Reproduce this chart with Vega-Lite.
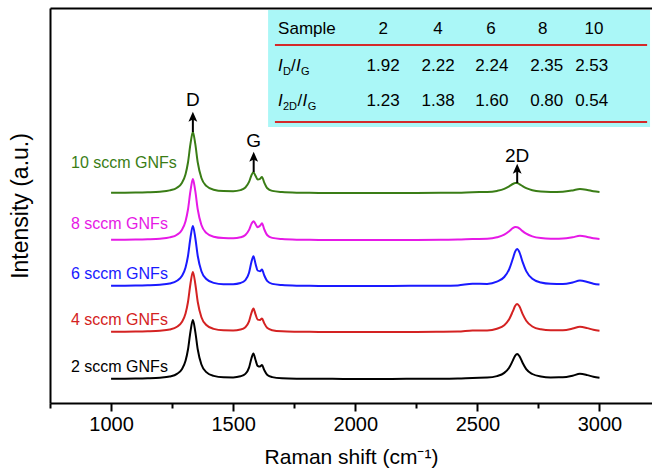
{
 "$schema": "https://vega.github.io/schema/vega-lite/v6.json",
 "width": 602, "height": 395,
 "autosize": "none",
 "padding": {"left": 50, "top": 8, "right": 0, "bottom": 68},
 "background": "white",
 "config": {"view": {"stroke": null}, "font": "Liberation Sans", "axis": {"grid": false}},
 "resolve": {"axis": {"x": "independent", "y": "independent"}},
 "datasets": {
  "spec": [
   {"s":2,"x":1000,"y":24.2},{"s":2,"x":1050,"y":24.3},{"s":2,"x":1100,"y":24.4},{"s":2,"x":1150,"y":24.7},{"s":2,"x":1200,"y":25.3},{"s":2,"x":1240,"y":26.5},{"s":2,"x":1270,"y":29.1},{"s":2,"x":1290,"y":33.7},{"s":2,"x":1305,"y":42.2},{"s":2,"x":1315,"y":53.5},{"s":2,"x":1325,"y":71.2},{"s":2,"x":1335,"y":83},{"s":2,"x":1345,"y":71.2},{"s":2,"x":1355,"y":53.5},{"s":2,"x":1370,"y":38.5},{"s":2,"x":1390,"y":30.9},{"s":2,"x":1420,"y":27.1},{"s":2,"x":1460,"y":25.7},{"s":2,"x":1500,"y":25.6},{"s":2,"x":1530,"y":26.7},{"s":2,"x":1550,"y":29.1},{"s":2,"x":1565,"y":35.4},{"s":2,"x":1575,"y":44.8},{"s":2,"x":1583,"y":49.5},{"s":2,"x":1592,"y":42.7},{"s":2,"x":1600,"y":37.2},{"s":2,"x":1610,"y":36.5},{"s":2,"x":1618,"y":37.9},{"s":2,"x":1627,"y":33.1},{"s":2,"x":1640,"y":28.0},{"s":2,"x":1660,"y":25.9},{"s":2,"x":1700,"y":24.7},{"s":2,"x":1760,"y":24.3},{"s":2,"x":1850,"y":24.2},{"s":2,"x":1950,"y":24.1},{"s":2,"x":2050,"y":24.1},{"s":2,"x":2150,"y":24.0},{"s":2,"x":2250,"y":24.2},{"s":2,"x":2350,"y":24.2},{"s":2,"x":2420,"y":24.4},{"s":2,"x":2480,"y":25.1},{"s":2,"x":2540,"y":25.4},{"s":2,"x":2580,"y":26.9},{"s":2,"x":2610,"y":30.1},{"s":2,"x":2630,"y":35.3},{"s":2,"x":2645,"y":42.4},{"s":2,"x":2655,"y":47.4},{"s":2,"x":2663,"y":49},{"s":2,"x":2672,"y":46.9},{"s":2,"x":2685,"y":40.3},{"s":2,"x":2700,"y":33.9},{"s":2,"x":2725,"y":29.0},{"s":2,"x":2760,"y":26.5},{"s":2,"x":2800,"y":25.6},{"s":2,"x":2850,"y":25.7},{"s":2,"x":2890,"y":27.3},{"s":2,"x":2920,"y":29.2},{"s":2,"x":2950,"y":27.9},{"s":2,"x":2975,"y":26.2},{"s":2,"x":3000,"y":25.3},
   {"s":4,"x":1000,"y":71.2},{"s":4,"x":1050,"y":71.3},{"s":4,"x":1100,"y":71.4},{"s":4,"x":1150,"y":71.7},{"s":4,"x":1200,"y":72.3},{"s":4,"x":1240,"y":73.5},{"s":4,"x":1270,"y":76.2},{"s":4,"x":1290,"y":80.9},{"s":4,"x":1305,"y":89.5},{"s":4,"x":1315,"y":101},{"s":4,"x":1325,"y":119},{"s":4,"x":1335,"y":131},{"s":4,"x":1345,"y":119},{"s":4,"x":1355,"y":101},{"s":4,"x":1370,"y":85.8},{"s":4,"x":1390,"y":78.0},{"s":4,"x":1420,"y":74.1},{"s":4,"x":1460,"y":72.7},{"s":4,"x":1500,"y":72.6},{"s":4,"x":1530,"y":73.5},{"s":4,"x":1550,"y":75.8},{"s":4,"x":1565,"y":81.6},{"s":4,"x":1575,"y":90.1},{"s":4,"x":1583,"y":94.4},{"s":4,"x":1592,"y":88.3},{"s":4,"x":1600,"y":83.4},{"s":4,"x":1610,"y":83.0},{"s":4,"x":1618,"y":84.6},{"s":4,"x":1627,"y":79.9},{"s":4,"x":1640,"y":74.9},{"s":4,"x":1660,"y":72.8},{"s":4,"x":1700,"y":71.7},{"s":4,"x":1760,"y":71.3},{"s":4,"x":1850,"y":71.1},{"s":4,"x":1950,"y":71.0},{"s":4,"x":2050,"y":71.1},{"s":4,"x":2150,"y":71.0},{"s":4,"x":2250,"y":71.1},{"s":4,"x":2350,"y":71.3},{"s":4,"x":2420,"y":71.4},{"s":4,"x":2480,"y":72.5},{"s":4,"x":2540,"y":72.6},{"s":4,"x":2580,"y":74.3},{"s":4,"x":2610,"y":77.8},{"s":4,"x":2630,"y":83.7},{"s":4,"x":2645,"y":91.6},{"s":4,"x":2655,"y":97.2},{"s":4,"x":2663,"y":99},{"s":4,"x":2672,"y":96.7},{"s":4,"x":2685,"y":89.2},{"s":4,"x":2700,"y":82.3},{"s":4,"x":2725,"y":76.5},{"s":4,"x":2760,"y":73.7},{"s":4,"x":2800,"y":72.8},{"s":4,"x":2850,"y":72.8},{"s":4,"x":2890,"y":74.4},{"s":4,"x":2920,"y":76.3},{"s":4,"x":2950,"y":74.9},{"s":4,"x":2975,"y":73.2},{"s":4,"x":3000,"y":72.3},
   {"s":6,"x":1000,"y":117.2},{"s":6,"x":1050,"y":117.3},{"s":6,"x":1100,"y":117.4},{"s":6,"x":1150,"y":117.7},{"s":6,"x":1200,"y":118.3},{"s":6,"x":1240,"y":119.5},{"s":6,"x":1270,"y":122.2},{"s":6,"x":1290,"y":126.9},{"s":6,"x":1305,"y":135.5},{"s":6,"x":1315,"y":147},{"s":6,"x":1325,"y":165},{"s":6,"x":1335,"y":177},{"s":6,"x":1345,"y":165},{"s":6,"x":1355,"y":147},{"s":6,"x":1370,"y":131.8},{"s":6,"x":1390,"y":124.0},{"s":6,"x":1420,"y":120.1},{"s":6,"x":1460,"y":118.8},{"s":6,"x":1500,"y":118.8},{"s":6,"x":1530,"y":120.0},{"s":6,"x":1550,"y":122.9},{"s":6,"x":1565,"y":130.3},{"s":6,"x":1575,"y":141.3},{"s":6,"x":1583,"y":146.7},{"s":6,"x":1592,"y":138.8},{"s":6,"x":1600,"y":132.5},{"s":6,"x":1610,"y":131.8},{"s":6,"x":1618,"y":133.4},{"s":6,"x":1627,"y":127.8},{"s":6,"x":1640,"y":121.8},{"s":6,"x":1660,"y":119.1},{"s":6,"x":1700,"y":117.9},{"s":6,"x":1760,"y":117.3},{"s":6,"x":1850,"y":117.1},{"s":6,"x":1950,"y":117.0},{"s":6,"x":2050,"y":117.1},{"s":6,"x":2150,"y":117.0},{"s":6,"x":2250,"y":117.2},{"s":6,"x":2350,"y":117.3},{"s":6,"x":2420,"y":117.6},{"s":6,"x":2480,"y":119.2},{"s":6,"x":2540,"y":119.1},{"s":6,"x":2580,"y":121.3},{"s":6,"x":2610,"y":126.0},{"s":6,"x":2630,"y":133.7},{"s":6,"x":2645,"y":144.2},{"s":6,"x":2655,"y":151.6},{"s":6,"x":2663,"y":154},{"s":6,"x":2672,"y":150.9},{"s":6,"x":2685,"y":141.1},{"s":6,"x":2700,"y":131.9},{"s":6,"x":2725,"y":124.2},{"s":6,"x":2760,"y":120.5},{"s":6,"x":2800,"y":119.2},{"s":6,"x":2850,"y":119.0},{"s":6,"x":2890,"y":120.5},{"s":6,"x":2920,"y":122.4},{"s":6,"x":2950,"y":121.0},{"s":6,"x":2975,"y":119.3},{"s":6,"x":3000,"y":118.4},
   {"s":8,"x":1000,"y":163.2},{"s":8,"x":1050,"y":163.3},{"s":8,"x":1100,"y":163.4},{"s":8,"x":1150,"y":163.7},{"s":8,"x":1200,"y":164.3},{"s":8,"x":1240,"y":165.6},{"s":8,"x":1270,"y":168.3},{"s":8,"x":1290,"y":173.1},{"s":8,"x":1305,"y":181.8},{"s":8,"x":1315,"y":193.5},{"s":8,"x":1325,"y":211.8},{"s":8,"x":1335,"y":224},{"s":8,"x":1345,"y":211.8},{"s":8,"x":1355,"y":193.5},{"s":8,"x":1370,"y":178.0},{"s":8,"x":1390,"y":170.1},{"s":8,"x":1420,"y":166.2},{"s":8,"x":1460,"y":164.9},{"s":8,"x":1500,"y":164.7},{"s":8,"x":1530,"y":165.7},{"s":8,"x":1550,"y":168.0},{"s":8,"x":1565,"y":173.1},{"s":8,"x":1575,"y":179.1},{"s":8,"x":1583,"y":181.8},{"s":8,"x":1592,"y":178.7},{"s":8,"x":1600,"y":175.8},{"s":8,"x":1610,"y":177.2},{"s":8,"x":1618,"y":179.7},{"s":8,"x":1627,"y":173.9},{"s":8,"x":1640,"y":167.7},{"s":8,"x":1660,"y":165.1},{"s":8,"x":1700,"y":163.9},{"s":8,"x":1760,"y":163.3},{"s":8,"x":1850,"y":163.1},{"s":8,"x":1950,"y":163.0},{"s":8,"x":2050,"y":163.1},{"s":8,"x":2150,"y":163.0},{"s":8,"x":2250,"y":163.1},{"s":8,"x":2350,"y":163.2},{"s":8,"x":2420,"y":163.4},{"s":8,"x":2480,"y":164.0},{"s":8,"x":2540,"y":164.3},{"s":8,"x":2580,"y":165.7},{"s":8,"x":2610,"y":168.3},{"s":8,"x":2630,"y":171.7},{"s":8,"x":2645,"y":174.8},{"s":8,"x":2655,"y":175.9},{"s":8,"x":2663,"y":175.8},{"s":8,"x":2672,"y":174.6},{"s":8,"x":2685,"y":171.9},{"s":8,"x":2700,"y":169.3},{"s":8,"x":2725,"y":166.6},{"s":8,"x":2760,"y":164.9},{"s":8,"x":2800,"y":164.3},{"s":8,"x":2850,"y":164.4},{"s":8,"x":2890,"y":165.7},{"s":8,"x":2920,"y":167.2},{"s":8,"x":2950,"y":166.1},{"s":8,"x":2975,"y":164.8},{"s":8,"x":3000,"y":164.1},
   {"s":10,"x":1000,"y":210.2},{"s":10,"x":1050,"y":210.3},{"s":10,"x":1100,"y":210.4},{"s":10,"x":1150,"y":210.7},{"s":10,"x":1200,"y":211.3},{"s":10,"x":1240,"y":212.6},{"s":10,"x":1270,"y":215.3},{"s":10,"x":1290,"y":220.1},{"s":10,"x":1305,"y":228.8},{"s":10,"x":1315,"y":240.5},{"s":10,"x":1325,"y":258.8},{"s":10,"x":1335,"y":271},{"s":10,"x":1345,"y":258.8},{"s":10,"x":1355,"y":240.5},{"s":10,"x":1370,"y":225.0},{"s":10,"x":1390,"y":217.1},{"s":10,"x":1420,"y":213.2},{"s":10,"x":1460,"y":211.9},{"s":10,"x":1500,"y":211.8},{"s":10,"x":1530,"y":212.9},{"s":10,"x":1550,"y":215.5},{"s":10,"x":1565,"y":221.1},{"s":10,"x":1575,"y":227.8},{"s":10,"x":1583,"y":230.7},{"s":10,"x":1592,"y":227.0},{"s":10,"x":1600,"y":223.5},{"s":10,"x":1610,"y":224.1},{"s":10,"x":1618,"y":226.1},{"s":10,"x":1627,"y":220.6},{"s":10,"x":1640,"y":214.7},{"s":10,"x":1660,"y":212.1},{"s":10,"x":1700,"y":210.9},{"s":10,"x":1760,"y":210.3},{"s":10,"x":1850,"y":210.1},{"s":10,"x":1950,"y":210.0},{"s":10,"x":2050,"y":210.1},{"s":10,"x":2150,"y":210.0},{"s":10,"x":2250,"y":210.1},{"s":10,"x":2350,"y":210.2},{"s":10,"x":2420,"y":210.3},{"s":10,"x":2480,"y":210.8},{"s":10,"x":2540,"y":211.0},{"s":10,"x":2580,"y":212.1},{"s":10,"x":2610,"y":214.1},{"s":10,"x":2630,"y":216.7},{"s":10,"x":2645,"y":219.0},{"s":10,"x":2655,"y":219.9},{"s":10,"x":2663,"y":219.9},{"s":10,"x":2672,"y":218.9},{"s":10,"x":2685,"y":216.9},{"s":10,"x":2700,"y":214.9},{"s":10,"x":2725,"y":212.8},{"s":10,"x":2760,"y":211.5},{"s":10,"x":2800,"y":211.1},{"s":10,"x":2850,"y":211.3},{"s":10,"x":2890,"y":212.6},{"s":10,"x":2920,"y":214.1},{"s":10,"x":2950,"y":213.1},{"s":10,"x":2975,"y":211.7},{"s":10,"x":3000,"y":211.0}
  ],
  "labels": [
   {"s":2,"t":"2 sccm GNFs","x":836,"y":36},
   {"s":4,"t":"4 sccm GNFs","x":836,"y":83},
   {"s":6,"t":"6 sccm GNFs","x":836,"y":129},
   {"s":8,"t":"8 sccm GNFs","x":836,"y":179},
   {"s":10,"t":"10 sccm GNFs","x":836,"y":240}
  ],
  "peaks": [
   {"t":"D","x":1335,"y1":271,"y2":285,"ty":303},
   {"t":"G","x":1584,"y1":231,"y2":245,"ty":262},
   {"t":"2D","x":2663,"y1":220,"y2":233,"ty":247}
  ],
  "box": [{"x1":1643,"x2":3207,"y1":276,"y2":393}],
  "hlines": [{"y":358},{"y":281}],
  "cells": [
   {"t":"2","x":2114,"y":374},{"t":"4","x":2339,"y":374},{"t":"6","x":2556,"y":374},{"t":"8","x":2768,"y":374},{"t":"10","x":2977,"y":374},
   {"t":"1.92","x":2114,"y":337},{"t":"2.22","x":2339,"y":337},{"t":"2.24","x":2559,"y":337},{"t":"2.35","x":2784,"y":337},{"t":"2.53","x":2968,"y":337},
   {"t":"1.23","x":2114,"y":302},{"t":"1.38","x":2339,"y":302},{"t":"1.60","x":2559,"y":302},{"t":"0.80","x":2784,"y":302},{"t":"0.54","x":2968,"y":302}
  ],
  "head": [{"t":"Sample","x":1684,"y":374},{"t":"/","x":1737,"y":337},{"t":"/","x":1763,"y":302}],
  "ital": [{"t":"I","x":1684,"y":337},{"t":"I","x":1757,"y":337},{"t":"I","x":1684,"y":302},{"t":"I","x":1784,"y":302}],
  "subs": [{"t":"D","x":1704,"y":337},{"t":"G","x":1778,"y":337},{"t":"2D","x":1704,"y":302},{"t":"G","x":1805,"y":302}]
 },
 "layer": [
  {
   "data": {"name": "spec"},
   "mark": {"type": "line", "strokeWidth": 2, "interpolate": "monotone"},
   "encoding": {
    "x": {"field": "x", "type": "quantitative", "scale": {"domain": [750, 3215], "nice": false, "zero": false},
     "axis": {"orient": "bottom", "values": [750, 1000, 1250, 1500, 1750, 2000, 2250, 2500, 2750, 3000], "format": "d",
      "labelExpr": "datum.value % 500 == 0 && datum.value >= 1000 ? datum.label : ''",
      "tickSize": {"condition": {"test": "datum.value % 500 == 0", "value": 8}, "value": 5},
      "tickWidth": 2, "tickColor": "black", "domainColor": "black", "domainWidth": 2,
      "labelFontSize": 20, "labelColor": "black", "labelPadding": 3, "labelFont": "Liberation Sans",
      "title": "Raman shift (cm⁻¹)", "titleFontSize": 21, "titleFontWeight": "normal", "titleColor": "black", "titlePadding": 12, "titleFont": "Liberation Sans"}},
    "y": {"field": "y", "type": "quantitative", "scale": {"domain": [0, 395], "nice": false, "zero": false},
     "axis": {"orient": "left", "domain": true, "domainColor": "black", "domainWidth": 2, "ticks": false, "labels": false,
      "title": "Intensity (a.u.)", "titleFontSize": 23, "titleFontWeight": "normal", "titleColor": "black", "titlePadding": 18, "titleFont": "Liberation Sans"}},
    "color": {"field": "s", "type": "nominal", "scale": {"domain": [2, 4, 6, 8, 10], "range": ["#000000", "#d42222", "#1a1aff", "#e619e6", "#3a7d16"]}, "legend": null}
   }
  },
  {
   "data": {"name": "box"},
   "mark": {"type": "rect", "color": "#aaf7f7"},
   "encoding": {
    "x": {"field": "x1", "type": "quantitative", "axis": {"orient": "top", "labels": false, "ticks": false, "domain": true, "domainWidth": 2, "domainColor": "black", "title": null, "grid": false}},
    "x2": {"field": "x2"},
    "y": {"field": "y1", "type": "quantitative", "axis": null},
    "y2": {"field": "y2"}
   }
  },
  {
   "data": {"name": "hlines"},
   "mark": {"type": "rule", "color": "#d42a2a", "strokeWidth": 2},
   "encoding": {
    "x": {"datum": 1671, "type": "quantitative", "axis": null},
    "x2": {"datum": 3195},
    "y": {"field": "y", "type": "quantitative", "axis": null}
   }
  },
  {
   "data": {"name": "labels"},
   "mark": {"type": "text", "align": "left", "baseline": "middle", "fontSize": 16, "font": "Liberation Sans"},
   "encoding": {
    "x": {"field": "x", "type": "quantitative", "axis": null},
    "y": {"field": "y", "type": "quantitative", "axis": null},
    "text": {"field": "t"},
    "color": {"field": "s", "type": "nominal", "legend": null}
   }
  },
  {
   "data": {"name": "peaks"},
   "mark": {"type": "rule", "color": "black", "strokeWidth": 2},
   "encoding": {
    "x": {"field": "x", "type": "quantitative", "axis": null},
    "y": {"field": "y1", "type": "quantitative", "axis": null},
    "y2": {"field": "y2"}
   }
  },
  {
   "data": {"name": "peaks"},
   "mark": {"type": "point", "shape": "M0,-1L0.7,0.6L0,0.25L-0.7,0.6Z", "filled": true, "color": "black", "size": 160, "opacity": 1},
   "encoding": {
    "x": {"field": "x", "type": "quantitative", "axis": null},
    "y": {"field": "y2", "type": "quantitative", "axis": null}
   }
  },
  {
   "data": {"name": "peaks"},
   "mark": {"type": "text", "align": "center", "baseline": "middle", "fontSize": 19, "font": "Liberation Sans", "color": "black"},
   "encoding": {
    "x": {"field": "x", "type": "quantitative", "axis": null},
    "y": {"field": "ty", "type": "quantitative", "axis": null},
    "text": {"field": "t"}
   }
  },
  {
   "data": {"name": "cells"},
   "mark": {"type": "text", "align": "center", "baseline": "middle", "fontSize": 17, "font": "Liberation Sans", "color": "black"},
   "encoding": {
    "x": {"field": "x", "type": "quantitative", "axis": null},
    "y": {"field": "y", "type": "quantitative", "axis": null},
    "text": {"field": "t"}
   }
  },
  {
   "data": {"name": "head"},
   "mark": {"type": "text", "align": "left", "baseline": "middle", "fontSize": 17, "font": "Liberation Sans", "color": "black"},
   "encoding": {
    "x": {"field": "x", "type": "quantitative", "axis": null},
    "y": {"field": "y", "type": "quantitative", "axis": null},
    "text": {"field": "t"}
   }
  },
  {
   "data": {"name": "ital"},
   "mark": {"type": "text", "align": "left", "baseline": "middle", "fontSize": 17, "fontStyle": "italic", "font": "Liberation Sans", "color": "black"},
   "encoding": {
    "x": {"field": "x", "type": "quantitative", "axis": null},
    "y": {"field": "y", "type": "quantitative", "axis": null},
    "text": {"field": "t"}
   }
  },
  {
   "data": {"name": "subs"},
   "mark": {"type": "text", "align": "left", "baseline": "middle", "fontSize": 11, "dy": 6, "font": "Liberation Sans", "color": "black"},
   "encoding": {
    "x": {"field": "x", "type": "quantitative", "axis": null},
    "y": {"field": "y", "type": "quantitative", "axis": null},
    "text": {"field": "t"}
   }
  }
 ]
}
